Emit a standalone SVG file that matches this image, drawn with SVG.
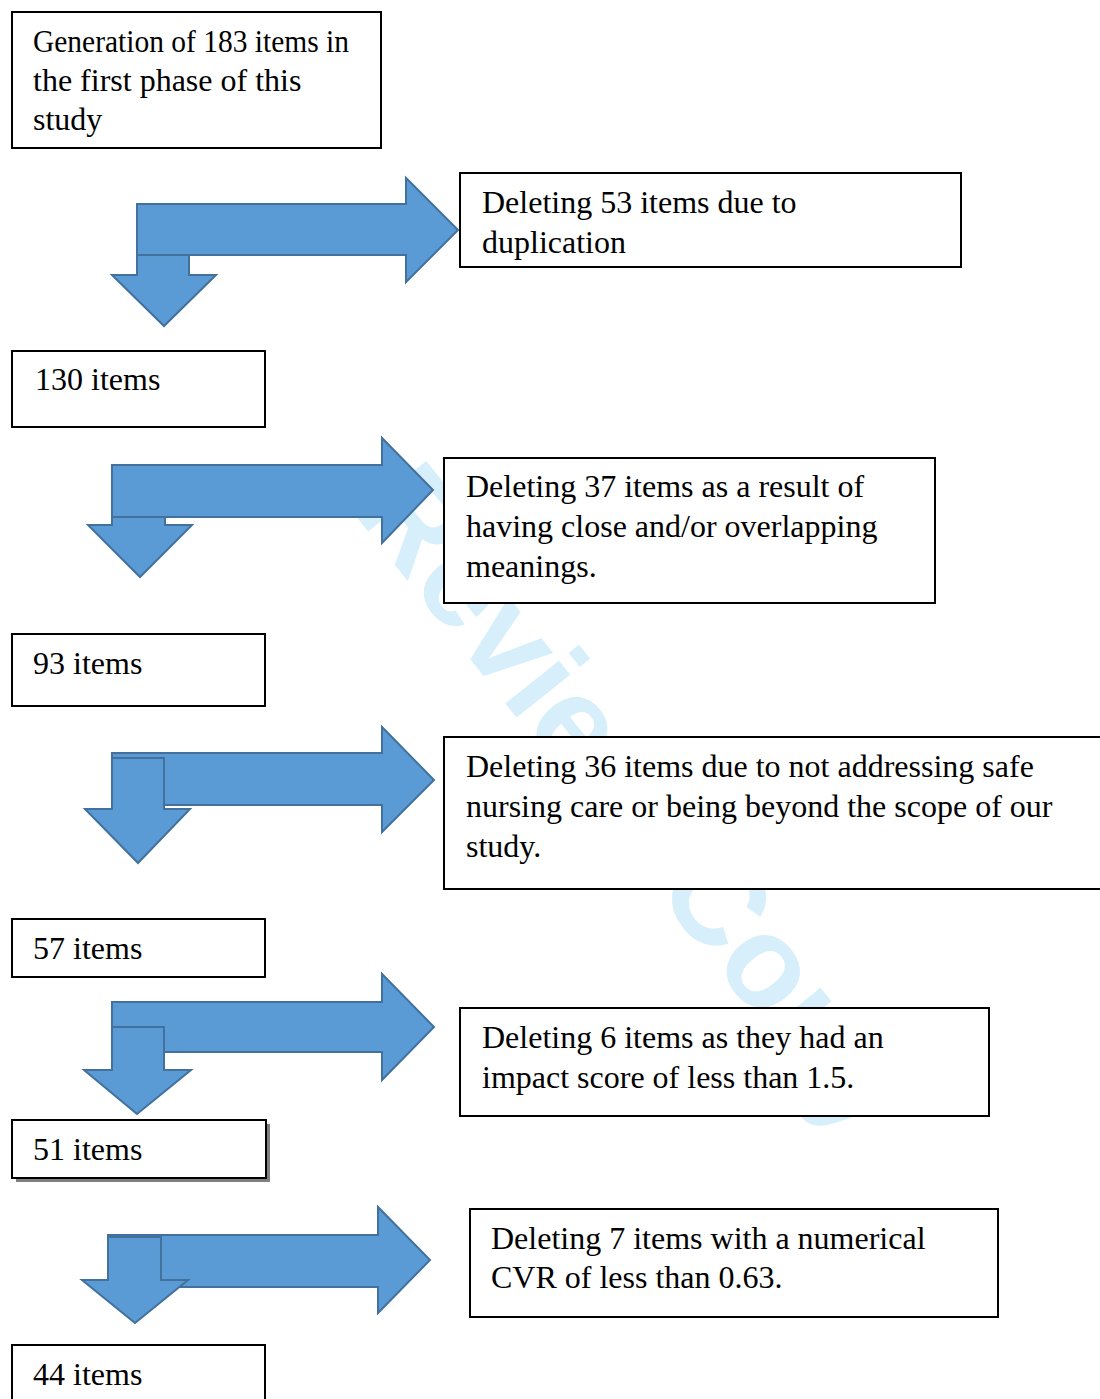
<svg xmlns="http://www.w3.org/2000/svg" width="1100" height="1399" viewBox="0 0 1100 1399">
<style>
.box{fill:#fff;stroke:#000;stroke-width:2}
.t{font-family:"Liberation Serif","Times New Roman",serif;font-size:32px;fill:#000}
.arr{fill:#5b9bd5;stroke:#41719c;stroke-width:2;stroke-linejoin:miter}
.wm{font-family:"Liberation Sans",Arial,sans-serif;font-weight:bold;font-size:130px;fill:#d6effb}
</style>
<rect x="0" y="0" width="1100" height="1399" fill="#fff"/>
<g id="watermark">
<text class="wm" transform="translate(351,510) rotate(51.4)">Review Copy</text>
</g>
<g id="connectors">
<g id="arrow1">
<polygon class="arr" points="137,255 189,255 189,275 216,275 164,326 112,275 137,275"/>
<polygon class="arr" points="137,204 406,204 406,178 458,230 406,282 406,255 137,255"/>
</g>
<g id="arrow2">
<polygon class="arr" points="112,517 165,517 165,525 192,525 140,577 88,525 112,525"/>
<polygon class="arr" points="112,465 382,465 382,438 433,490 382,543 382,517 112,517"/>
</g>
<g id="arrow3">
<polygon class="arr" points="112,753 382,753 382,727 434,780 382,832 382,805 112,805"/>
<polygon class="arr" points="112,758 164,758 164,809 190,809 138,863 85,809 112,809"/>
</g>
<g id="arrow4">
<polygon class="arr" points="112,1002 382,1002 382,974 434,1027 382,1080 382,1052 112,1052"/>
<polygon class="arr" points="112,1027 164,1027 164,1070 191,1070 137,1114 84,1070 112,1070"/>
</g>
<g id="arrow5">
<polygon class="arr" points="108,1235 378,1235 378,1207 430,1260 378,1313 378,1287 108,1287"/>
<polygon class="arr" points="108,1237 161,1237 161,1280 188,1280 135,1323 82,1280 108,1280"/>
</g>
</g>
<g id="n1">
<rect class="box" x="12" y="12" width="369" height="136"/>
<text class="t" x="33" y="52" textLength="316" lengthAdjust="spacingAndGlyphs">Generation of 183 items in</text>
<text class="t" x="33" y="91">the first phase of this</text>
<text class="t" x="33" y="130">study</text>
</g>
<g id="n2">
<rect class="box" x="460" y="173" width="501" height="94"/>
<text class="t" x="482" y="213">Deleting 53 items due to</text>
<text class="t" x="482" y="253">duplication</text>
</g>
<g id="n3">
<rect class="box" x="12" y="351" width="253" height="76"/>
<text class="t" x="35" y="390">130 items</text>
</g>
<g id="n4">
<rect class="box" x="444" y="458" width="491" height="145"/>
<text class="t" x="466" y="497">Deleting 37 items as a result of</text>
<text class="t" x="466" y="537">having close and/or overlapping</text>
<text class="t" x="466" y="577">meanings.</text>
</g>
<g id="n5">
<rect class="box" x="12" y="634" width="253" height="72"/>
<text class="t" x="33" y="674">93 items</text>
</g>
<g id="n6">
<rect class="box" x="444" y="737" width="670" height="152"/>
<text class="t" x="466" y="777">Deleting 36 items due to not addressing safe</text>
<text class="t" x="466" y="817">nursing care or being beyond the scope of our</text>
<text class="t" x="466" y="857">study.</text>
</g>
<g id="n7">
<rect class="box" x="12" y="919" width="253" height="58"/>
<text class="t" x="33" y="959">57 items</text>
</g>
<g id="n8">
<rect class="box" x="460" y="1008" width="529" height="108"/>
<text class="t" x="482" y="1048">Deleting 6 items as they had an</text>
<text class="t" x="482" y="1088">impact score of less than 1.5.</text>
</g>
<g id="n9">
<rect x="16" y="1124" width="254" height="58" fill="#808080"/>
<rect class="box" x="12" y="1120" width="254" height="58"/>
<text class="t" x="33" y="1160">51 items</text>
</g>
<g id="n10">
<rect class="box" x="470" y="1209" width="528" height="108"/>
<text class="t" x="491" y="1249">Deleting 7 items with a numerical</text>
<text class="t" x="491" y="1288">CVR of less than 0.63.</text>
</g>
<g id="n11">
<rect class="box" x="12" y="1345" width="253" height="70"/>
<text class="t" x="33" y="1385">44 items</text>
</g>
</svg>
